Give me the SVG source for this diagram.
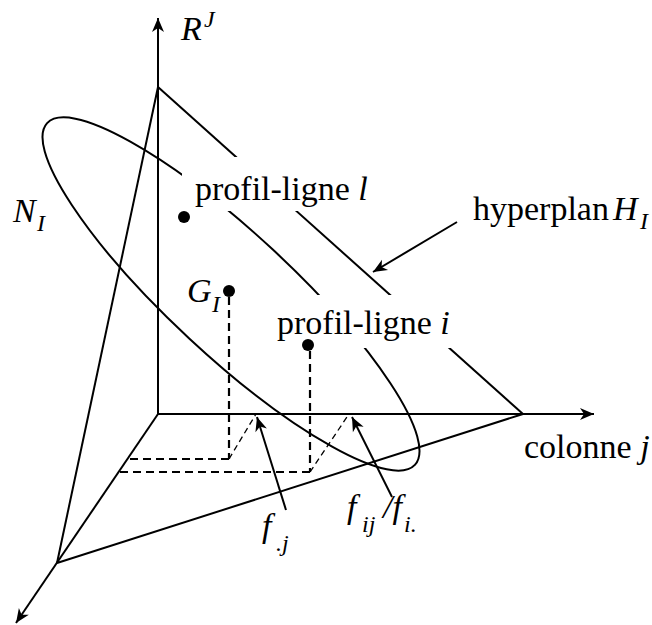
<svg xmlns="http://www.w3.org/2000/svg" width="652" height="625" viewBox="0 0 652 625">
<style>
.ln{fill:none;stroke:#000;stroke-width:2}
.dk{fill:none;stroke:#000;stroke-width:2.2;stroke-dasharray:8 5}
.dt{fill:none;stroke:#000;stroke-width:1.3;stroke-dasharray:6 4}
.bg{fill:#fff;stroke:none}
text{font-family:"Liberation Serif","Times New Roman",serif;font-size:34px;fill:#000}
.it{font-style:italic}
.sub{font-style:italic;font-size:24px}
.dot{fill:#000}
</style>
<defs>
<marker id="ah" viewBox="-15 -7 16 14" markerWidth="16" markerHeight="14" refX="0" refY="0" orient="auto" markerUnits="userSpaceOnUse">
<path d="M0,0 L-14,-6 L-10,0 L-14,6 Z" fill="#000"/>
</marker>
</defs>
<g id="cloud">
<ellipse class="ln" cx="231" cy="294" rx="251" ry="61" transform="rotate(42.9 231 294)"/>
</g>
<g id="hyperplane">
<line class="ln" x1="158" y1="87" x2="57" y2="563"/>
<line class="ln" x1="57" y1="563" x2="523" y2="414"/>
<line class="ln" x1="158" y1="87" x2="523" y2="414"/>
</g>
<g id="axes">
<line class="ln" x1="158" y1="414" x2="158" y2="18" marker-end="url(#ah)"/>
<line class="ln" x1="158" y1="414" x2="594" y2="414" marker-end="url(#ah)"/>
<line class="ln" x1="158" y1="414" x2="16" y2="623" marker-end="url(#ah)"/>
</g>
<g id="label-profil-l">
<rect class="bg" x="182" y="157" width="190" height="54"/>
<text x="195" y="200">profil-ligne <tspan class="it">l</tspan></text>
</g>
<g id="label-profil-i">
<rect class="bg" x="272" y="295" width="180" height="53"/>
<text x="277" y="334">profil-ligne <tspan class="it">i</tspan></text>
</g>
<g id="point-l">
<circle class="dot" cx="184" cy="217" r="6"/>
</g>
<g id="point-G">
<circle class="dot" cx="229" cy="291" r="6"/>
<text x="187" y="302" class="it">G</text>
<text x="212" y="312" class="sub">I</text>
</g>
<g id="point-i">
<circle class="dot" cx="308" cy="345" r="6"/>
</g>
<g id="connectors">
<line class="dk" x1="229" y1="297" x2="229" y2="459"/>
<line class="dk" x1="229" y1="459" x2="127" y2="459"/>
<line class="dt" x1="229" y1="459" x2="256" y2="414"/>
<line class="dk" x1="310" y1="351" x2="310" y2="472"/>
<line class="dk" x1="310" y1="472" x2="119" y2="472"/>
<line class="dt" x1="310" y1="472" x2="349" y2="414"/>
<line class="ln" x1="457" y1="222" x2="373" y2="272" marker-end="url(#ah)"/>
<line class="ln" x1="286" y1="510" x2="257" y2="417" marker-end="url(#ah)"/>
<line class="ln" x1="392" y1="497" x2="352" y2="417" marker-end="url(#ah)"/>
</g>
<g id="label-R">
<text x="181" y="40" class="it">R</text>
<text x="204" y="27" class="sub">J</text>
</g>
<g id="label-N">
<text x="13" y="222" class="it">N</text>
<text x="37" y="231" class="sub">I</text>
</g>
<g id="label-H">
<text x="473" y="220">hyperplan</text>
<text x="613" y="220" class="it">H</text>
<text x="640" y="229" class="sub">I</text>
</g>
<g id="label-colonne">
<text x="524" y="458">colonne <tspan class="it">j</tspan></text>
</g>
<g id="label-fj">
<text x="262" y="537" class="it">f</text>
<text x="276" y="551" class="sub">.j</text>
</g>
<g id="label-fij">
<text x="347" y="518" class="it">f</text>
<text x="362" y="532" class="sub">ij</text>
<text x="383" y="518" class="it">/f</text>
<text x="404" y="532" class="sub">i.</text>
</g>
</svg>
